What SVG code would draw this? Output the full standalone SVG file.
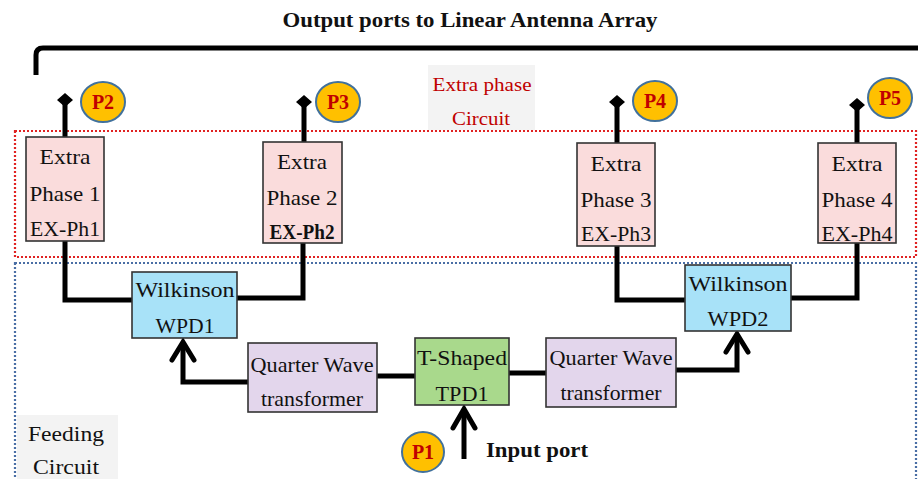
<svg xmlns="http://www.w3.org/2000/svg" width="918" height="479" viewBox="0 0 918 479">
  <style>
    .box { stroke: #333; stroke-width: 1.6; }
    .eph { fill: #fadcdc; }
    .wpd { fill: #a8e2f8; }
    .qw { fill: #e3d6ec; }
    .tpd { fill: #a9d98c; }
    .lbl { font-family: "Liberation Serif", "Times New Roman", serif; font-size: 21px; fill: #111; text-anchor: middle; }
    .bold { font-weight: bold; }
    .wire { fill: none; stroke: #000; stroke-width: 5; stroke-linejoin: miter; stroke-linecap: butt; }
    .head { fill: none; stroke: #000; stroke-width: 5; stroke-linejoin: miter; stroke-linecap: round; }
    .port ellipse { fill: #ffc000; stroke: #41719c; stroke-width: 2; }
    .ptxt { font-family: "Liberation Serif", "Times New Roman", serif; font-size: 20px; font-weight: bold; fill: #c00000; text-anchor: middle; }
    .stub { fill: #000; }
  </style>

  <rect width="918" height="479" fill="#fff"/>

  <!-- heading and bracket over the output ports -->
  <text class="lbl bold" x="470" y="27" textLength="375" lengthAdjust="spacingAndGlyphs">Output ports to Linear Antenna Array</text>
  <path d="M36,75 V55 Q36,48 43,48 H918" fill="none" stroke="#000" stroke-width="5"/>

  <!-- circuit regions -->
  <g id="extra-phase-region">
    <rect x="15" y="131" width="901" height="126" fill="none" stroke="#e02222" stroke-width="2.2" stroke-dasharray="2 2"/>
    <rect x="428" y="65" width="107" height="65" fill="#f3f3f3"/>
    <text x="482" y="91" font-family="Liberation Serif, serif" font-size="18" fill="#c00000" text-anchor="middle" textLength="99" lengthAdjust="spacingAndGlyphs">Extra phase</text>
    <text x="481" y="125" font-family="Liberation Serif, serif" font-size="18" fill="#c00000" text-anchor="middle" textLength="58" lengthAdjust="spacingAndGlyphs">Circuit</text>
  </g>
  <g id="feeding-region">
    <rect x="15" y="263" width="901" height="230" fill="none" stroke="#4a6ea5" stroke-width="2.2" stroke-dasharray="2 2"/>
    <rect x="17" y="415" width="101" height="64" fill="#f3f3f3"/>
    <text class="lbl" x="66" y="441" textLength="76" lengthAdjust="spacingAndGlyphs">Feeding</text>
    <text class="lbl" x="66" y="474" textLength="66" lengthAdjust="spacingAndGlyphs">Circuit</text>
  </g>

  <!-- connectors -->
  <g id="connectors">
    <!-- output stubs -->
    <path class="wire" d="M65,100 V137 M304,102 V142 M617,102 V143 M857,105 V143"/>
    <path class="stub" d="M57,100 L65,93 L73,100 L65,107 Z M296,102 L304,95 L312,102 L304,109 Z M609,102 L617,95 L625,102 L617,109 Z M849,105 L857,98 L865,105 L857,112 Z"/>
    <!-- phase shifters to Wilkinson dividers -->
    <path class="wire" d="M65,241 V300 H133"/>
    <path class="wire" d="M303,243 V298 H237"/>
    <path class="wire" d="M617,246 V300 H686"/>
    <path class="wire" d="M857,243 V298 H791"/>
    <!-- T-junction to quarter wave sections -->
    <path class="wire" d="M377,376 H415"/>
    <path class="wire" d="M509,373 H546"/>
    <!-- quarter wave sections to Wilkinson dividers -->
    <path class="wire" d="M248,382 H183 V342"/>
    <polyline class="head" points="172,360 183,342 194,360"/>
    <path class="wire" d="M676,370 H737 V334"/>
    <polyline class="head" points="726,352 737,334 748,352"/>
    <!-- input feed -->
    <path class="wire" d="M464,459 V409"/>
    <polyline class="head" points="453,428 464,409 475,428"/>
  </g>

  <!-- extra phase shifters -->
  <g id="ex-ph1">
    <rect class="box eph" x="26" y="137" width="78" height="104"/>
    <text class="lbl" x="65" y="164" textLength="51" lengthAdjust="spacingAndGlyphs">Extra</text>
    <text class="lbl" x="65" y="201" textLength="71" lengthAdjust="spacingAndGlyphs">Phase 1</text>
    <text class="lbl" x="65" y="236" textLength="70" lengthAdjust="spacingAndGlyphs">EX-Ph1</text>
  </g>
  <g id="ex-ph2">
    <rect class="box eph" x="263" y="142" width="79" height="101"/>
    <text class="lbl" x="302" y="169" textLength="50" lengthAdjust="spacingAndGlyphs">Extra</text>
    <text class="lbl" x="302" y="205" textLength="71" lengthAdjust="spacingAndGlyphs">Phase 2</text>
    <text class="lbl bold" x="302" y="239" font-size="18" textLength="65" lengthAdjust="spacingAndGlyphs">EX-Ph2</text>
  </g>
  <g id="ex-ph3">
    <rect class="box eph" x="577" y="143" width="78" height="103"/>
    <text class="lbl" x="616" y="171" textLength="51" lengthAdjust="spacingAndGlyphs">Extra</text>
    <text class="lbl" x="616" y="207" textLength="71" lengthAdjust="spacingAndGlyphs">Phase 3</text>
    <text class="lbl" x="616" y="241" textLength="70" lengthAdjust="spacingAndGlyphs">EX-Ph3</text>
  </g>
  <g id="ex-ph4">
    <rect class="box eph" x="818" y="143" width="78" height="100"/>
    <text class="lbl" x="857" y="171" textLength="51" lengthAdjust="spacingAndGlyphs">Extra</text>
    <text class="lbl" x="857" y="207" textLength="71" lengthAdjust="spacingAndGlyphs">Phase 4</text>
    <text class="lbl" x="857" y="241" textLength="71" lengthAdjust="spacingAndGlyphs">EX-Ph4</text>
  </g>

  <!-- Wilkinson dividers -->
  <g id="wpd1">
    <rect class="box wpd" x="132" y="272" width="105" height="66"/>
    <text class="lbl" x="185" y="297" textLength="99" lengthAdjust="spacingAndGlyphs">Wilkinson</text>
    <text class="lbl" x="185" y="333" textLength="59" lengthAdjust="spacingAndGlyphs">WPD1</text>
  </g>
  <g id="wpd2">
    <rect class="box wpd" x="685" y="265" width="106" height="66"/>
    <text class="lbl" x="738" y="291" textLength="99" lengthAdjust="spacingAndGlyphs">Wilkinson</text>
    <text class="lbl" x="738" y="326" textLength="61" lengthAdjust="spacingAndGlyphs">WPD2</text>
  </g>

  <!-- quarter wave transformers -->
  <g id="qw1">
    <rect class="box qw" x="248" y="343" width="129" height="69"/>
    <text class="lbl" x="312" y="372" font-size="20" textLength="123" lengthAdjust="spacingAndGlyphs">Quarter Wave</text>
    <text class="lbl" x="312" y="406" font-size="20" textLength="102" lengthAdjust="spacingAndGlyphs">transformer</text>
  </g>
  <g id="qw2">
    <rect class="box qw" x="546" y="338" width="130" height="69"/>
    <text class="lbl" x="611" y="365" font-size="20" textLength="123" lengthAdjust="spacingAndGlyphs">Quarter Wave</text>
    <text class="lbl" x="611" y="400" font-size="20" textLength="101" lengthAdjust="spacingAndGlyphs">transformer</text>
  </g>

  <!-- T-shaped divider -->
  <g id="tpd1">
    <rect class="box tpd" x="415" y="338" width="94" height="67"/>
    <text class="lbl" x="462" y="365" textLength="90" lengthAdjust="spacingAndGlyphs">T-Shaped</text>
    <text class="lbl" x="462" y="401" textLength="53" lengthAdjust="spacingAndGlyphs">TPD1</text>
  </g>

  <text class="lbl bold" x="537" y="457" font-size="20" textLength="102" lengthAdjust="spacingAndGlyphs">Input port</text>

  <!-- port badges -->
  <g id="p1" class="port"><ellipse cx="423" cy="452" rx="21" ry="20"/><text class="ptxt" x="423" y="459">P1</text></g>
  <g id="p2" class="port"><ellipse cx="103" cy="102" rx="22" ry="20"/><text class="ptxt" x="103" y="109">P2</text></g>
  <g id="p3" class="port"><ellipse cx="338" cy="102" rx="22" ry="20"/><text class="ptxt" x="338" y="109">P3</text></g>
  <g id="p4" class="port"><ellipse cx="655" cy="101" rx="22" ry="20"/><text class="ptxt" x="655" y="108">P4</text></g>
  <g id="p5" class="port"><ellipse cx="890" cy="98" rx="22" ry="20"/><text class="ptxt" x="890" y="105">P5</text></g>
</svg>
